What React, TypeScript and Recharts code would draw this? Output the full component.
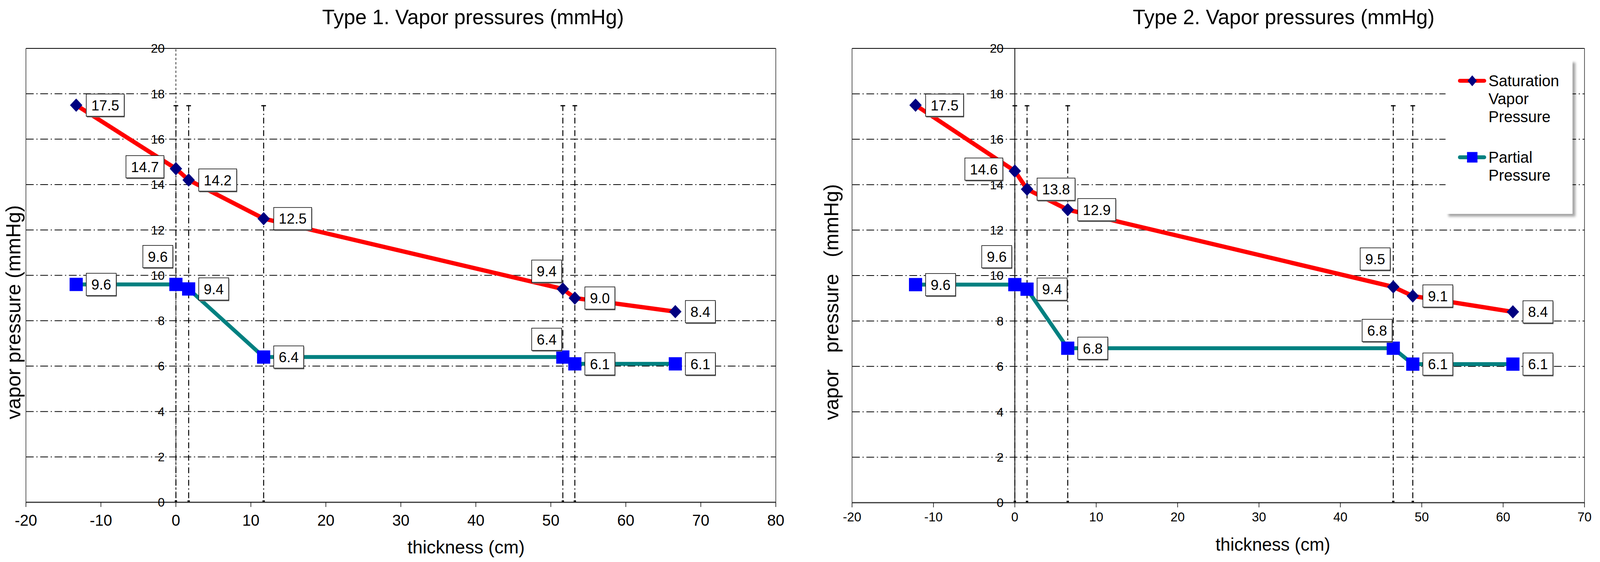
import React from 'react'
import {
  CartesianGrid,
  LabelList,
  Line,
  LineChart,
  ReferenceDot,
  ReferenceLine,
  XAxis,
  YAxis,
} from 'recharts'

const FONT = '"Liberation Sans", Arial, Helvetica, sans-serif'
const PAGE_W = 4133
const PAGE_H = 1440

// Type 1 wall: layer boundaries (cm) and pressures (mmHg)
const type1Thickness = [-13.3, 0, 1.7, 11.7, 51.6, 53.2, 66.6]
const type1Saturation = [17.5, 14.7, 14.2, 12.5, 9.4, 9.0, 8.4]
const type1Partial = [9.6, 9.6, 9.4, 6.4, 6.4, 6.1, 6.1]
const type1Layers = [0, 1.7, 11.7, 51.6, 53.2]
const type1XTicks = [-20, -10, 0, 10, 20, 30, 40, 50, 60, 70, 80]

// Type 2 wall
const type2Thickness = [-12.2, 0, 1.5, 6.5, 46.5, 48.9, 61.2]
const type2Saturation = [17.5, 14.6, 13.8, 12.9, 9.5, 9.1, 8.4]
const type2Partial = [9.6, 9.6, 9.4, 6.8, 6.8, 6.1, 6.1]
const type2Layers = [0, 1.5, 6.5, 46.5, 48.9]
const type2XTicks = [-20, -10, 0, 10, 20, 30, 40, 50, 60, 70]

const yTicks = [0, 2, 4, 6, 8, 10, 12, 14, 16, 18, 20]
const gridValues = [2, 4, 6, 8, 10, 12, 14, 16, 18]
const layerTop = 17.5

const seriesNames = ['Saturation Vapor Pressure', 'Partial Pressure']

// where each data label box sits relative to its point
type Place = 'right' | 'left' | 'above' | 'near'
const type1SatPlace: Place[] = ['right', 'left', 'right', 'right', 'near', 'right', 'right']
const type1PartPlace: Place[] = ['right', 'above', 'right', 'right', 'near', 'right', 'right']
const type2SatPlace: Place[] = ['right', 'left', 'right', 'right', 'above', 'right', 'right']
const type2PartPlace: Place[] = ['right', 'above', 'right', 'right', 'near', 'right', 'right']

const SAT_COLOR = '#FF0000'
const PART_COLOR = '#008080'

const toRows = (xs: number[], sat: number[], part: number[]) =>
  xs.map((x, i) => ({ x, sat: sat[i], part: part[i] }))

const DiamondDot = (props: any) => {
  const { cx, cy, index } = props
  if (cx == null || cy == null) return <g key={`d-${index}`} />
  return (
    <path
      key={`d-${index}`}
      d={`M${cx},${cy - 17}L${cx + 16},${cy}L${cx},${cy + 17}L${cx - 16},${cy}Z`}
      fill="#000080"
    />
  )
}

const SquareDot = (props: any) => {
  const { cx, cy, index } = props
  if (cx == null || cy == null) return <g key={`s-${index}`} />
  return <rect key={`s-${index}`} x={cx - 17} y={cy - 17} width={34} height={34} fill="#0000FF" />
}

const LayerLine = (props: any) => {
  const { x1, y1, y2 } = props
  const top = Math.min(y1, y2)
  const bottom = Math.max(y1, y2)
  return (
    <g>
      <line x1={x1} x2={x1} y1={top} y2={bottom} stroke="#000" strokeWidth={2.5} strokeDasharray="15 7 3 7" />
      <line x1={x1 - 6} x2={x1 + 6} y1={top + 1.5} y2={top + 1.5} stroke="#000" strokeWidth={3} />
      <rect x={x1 - 3} y={bottom - 5} width={6} height={5} fill="#000" />
    </g>
  )
}

const LABEL_FONT = 37

const boxLabel = (places: Place[]) => (props: any) => {
  const vb = props.viewBox || {}
  const cx = (vb.x ?? props.x) + (vb.width || 0) / 2
  const cy = (vb.y ?? props.y) + (vb.height || 0) / 2
  if (!Number.isFinite(cx) || !Number.isFinite(cy)) return null
  const text = Number(props.value).toFixed(1)
  let tw = 0
  for (const ch of text) tw += ch === '.' ? 0.278 : 0.556
  const w = tw * LABEL_FONT + 26
  const h = 57
  const place = places[props.index] || 'right'
  let bx = cx + 26
  let by = cy - h / 2
  if (place === 'left') {
    bx = cx - 31 - w
    by = cy - 5 - h / 2
  } else if (place === 'above') {
    bx = cx - 8 - w
    by = cy - 43 - h
  } else if (place === 'near') {
    bx = cx - 3 - w
    by = cy - 17 - h
  }
  return (
    <g key={`lbl-${props.index}`}>
      <rect x={bx + 1.5} y={by + 3} width={w} height={h} fill="#777" />
      <rect x={bx} y={by} width={w} height={h} fill="#fff" stroke="#000" strokeWidth={1.5} />
      <text x={bx + w / 2} y={by + h / 2 + 0.36 * LABEL_FONT} textAnchor="middle" fontSize={LABEL_FONT} fill="#000">
        {text}
      </text>
    </g>
  )
}

const LegendBox = () => (
  <div
    style={{
      position: 'absolute',
      left: 3734,
      top: 153,
      width: 328,
      height: 395,
      background: '#fff',
      boxShadow: '7px 7px 6px rgba(0,0,0,0.35)',
      fontFamily: FONT,
      fontSize: 40,
      lineHeight: '46px',
      color: '#000',
    }}
  >
    {seriesNames.map((name, i) => (
      <div key={name} style={{ position: 'absolute', left: 32, top: i === 0 ? 31 : 227, display: 'flex' }}>
        <svg width={79} height={46} style={{ flex: 'none' }}>
          <line
            x1={5}
            x2={68}
            y1={23}
            y2={23}
            stroke={i === 0 ? SAT_COLOR : PART_COLOR}
            strokeWidth={10}
            strokeLinecap="round"
          />
          {i === 0 ? (
            <path d="M37,9L49,23L37,37L25,23Z" fill="#000080" />
          ) : (
            <rect x={23.5} y={9.5} width={27} height={27} fill="#0000FF" />
          )}
        </svg>
        <div style={{ width: 210 }}>{name}</div>
      </div>
    ))}
  </div>
)

type PanelProps = {
  left: number
  width: number
  marginLeft: number
  marginRight: number
  xAxisHeight: number
  xDomain: [number, number]
  xTicks: number[]
  xTickFont: number
  xTickMargin: number
  rows: { x: number; sat: number; part: number }[]
  layers: number[]
  satPlace: Place[]
  partPlace: Place[]
  title: string
  titleX: number
  xLabelX: number
  xLabelY: number
  xLabelFont: number
  yLabelX: number
  yLabelY: number
  yWordSpacing: number
  dashedAxis: boolean
}

const Panel = (p: PanelProps) => (
  <div style={{ position: 'absolute', left: p.left, top: 0, width: p.width, height: PAGE_H }}>
    <LineChart
      width={p.width}
      height={PAGE_H}
      data={p.rows}
      margin={{ top: 124, right: p.marginRight, bottom: 0, left: p.marginLeft }}
    >
      <CartesianGrid
        vertical={false}
        horizontalValues={gridValues}
        stroke="#000"
        strokeWidth={2}
        strokeDasharray="20 7 3 7"
      />
      <XAxis
        type="number"
        dataKey="x"
        domain={p.xDomain}
        allowDataOverflow
        ticks={p.xTicks}
        interval={0}
        height={p.xAxisHeight}
        tickSize={12}
        tickMargin={p.xTickMargin}
        axisLine={{ stroke: '#333', strokeWidth: 3 }}
        tickLine={{ stroke: '#000', strokeWidth: 1.5 }}
        tick={{ fontSize: p.xTickFont, fill: '#000' }}
      />
      <YAxis hide type="number" domain={[0, 20]} allowDataOverflow ticks={yTicks} />
      <ReferenceLine y={20} stroke="#000" strokeWidth={2} />
      <ReferenceLine x={p.xDomain[0]} stroke="#222" strokeWidth={1.5} />
      <ReferenceLine x={p.xDomain[1]} stroke="#222" strokeWidth={1.5} />
      <ReferenceLine
        x={0}
        stroke="#000"
        strokeWidth={p.dashedAxis ? 1.5 : 2}
        strokeDasharray={p.dashedAxis ? '6 5' : undefined}
      />
      {p.layers.map((b) => (
        <ReferenceLine
          key={`layer-${b}`}
          segment={[
            { x: b, y: 0 },
            { x: b, y: layerTop },
          ]}
          shape={LayerLine}
        />
      ))}
      {yTicks.map((v) => (
        <ReferenceDot
          key={`yt-${v}`}
          x={0}
          y={v}
          r={0}
          fill="none"
          stroke="none"
          label={{ value: v, position: 'left', offset: 29, fontSize: 32, fill: '#000' }}
        />
      ))}
      <Line
        type="linear"
        dataKey="sat"
        name={seriesNames[0]}
        stroke={SAT_COLOR}
        strokeWidth={11}
        dot={DiamondDot}
        activeDot={false}
        isAnimationActive={false}
      >
        <LabelList dataKey="sat" content={boxLabel(p.satPlace)} />
      </Line>
      <Line
        type="linear"
        dataKey="part"
        name={seriesNames[1]}
        stroke={PART_COLOR}
        strokeWidth={10}
        dot={SquareDot}
        activeDot={false}
        isAnimationActive={false}
      >
        <LabelList dataKey="part" content={boxLabel(p.partPlace)} />
      </Line>
      <text x={p.titleX} y={62} textAnchor="middle" fontSize={53} fill="#000">
        {p.title}
      </text>
      <text x={p.xLabelX} y={p.xLabelY} textAnchor="middle" fontSize={p.xLabelFont} fill="#000">
        thickness (cm)
      </text>
      <text
        x={p.yLabelX}
        y={p.yLabelY}
        transform={`rotate(-90 ${p.yLabelX} ${p.yLabelY})`}
        textAnchor="middle"
        fontSize={52}
        fill="#000"
        style={{ wordSpacing: p.yWordSpacing }}
      >
        vapor pressure (mmHg)
      </text>
    </LineChart>
  </div>
)

export default function App() {
  // the window may be narrower than the 4133px design, so fit the page to it
  const vw = typeof window !== 'undefined' ? window.innerWidth : PAGE_W
  const vh = typeof window !== 'undefined' ? window.innerHeight : PAGE_H
  const sx = vw / PAGE_W
  const sy = vh / PAGE_H
  return (
    <>
      <style>{'html,body{margin:0;padding:0;overflow:hidden;}'}</style>
      <div
        style={{
          position: 'fixed',
          left: 0,
          top: 0,
          width: PAGE_W,
          height: PAGE_H,
          background: '#fff',
          overflow: 'hidden',
          fontFamily: FONT,
          transform: `scale(${sx}, ${sy})`,
          transformOrigin: '0 0',
        }}
      >
        <Panel
          left={0}
          width={2067}
          marginLeft={67}
          marginRight={63}
          xAxisHeight={153}
          xDomain={[-20, 80]}
          xTicks={type1XTicks}
          xTickFont={40}
          xTickMargin={20}
          rows={toRows(type1Thickness, type1Saturation, type1Partial)}
          layers={type1Layers}
          satPlace={type1SatPlace}
          partPlace={type1PartPlace}
          title="Type 1. Vapor pressures (mmHg)"
          titleX={1222}
          xLabelX={1204}
          xLabelY={1418}
          xLabelFont={47}
          yLabelX={52}
          yLabelY={800}
          yWordSpacing={0}
          dashedAxis
        />
        <Panel
          left={2067}
          width={2066}
          marginLeft={134}
          marginRight={40}
          xAxisHeight={152}
          xDomain={[-20, 70]}
          xTicks={type2XTicks}
          xTickFont={33}
          xTickMargin={13}
          rows={toRows(type2Thickness, type2Saturation, type2Partial)}
          layers={type2Layers}
          satPlace={type2SatPlace}
          partPlace={type2PartPlace}
          title="Type 2. Vapor pressures (mmHg)"
          titleX={1249}
          xLabelX={1221}
          xLabelY={1411}
          xLabelFont={46}
          yLabelX={98}
          yLabelY={774}
          yWordSpacing={28}
          dashedAxis={false}
        />
        <LegendBox />
      </div>
    </>
  )
}
